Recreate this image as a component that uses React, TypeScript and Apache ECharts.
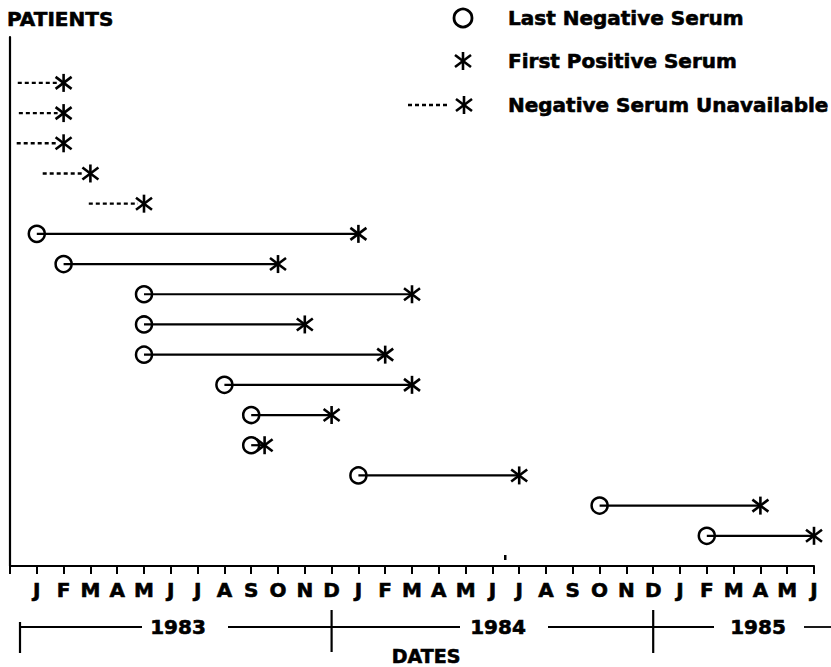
import React, { useEffect, useRef } from "react";
import * as echarts from "echarts";

// Month tick labels, Jan 1983 .. Jun 1985 (index 0 = Jan 1983)
const monthLabels = [
  "J","F","M","A","M","J","J","A","S","O","N","D",
  "J","F","M","A","M","J","J","A","S","O","N","D",
  "J","F","M","A","M","J",
];
const yearLabels = ["1983", "1984", "1985"];

// Patients, top to bottom
const patients = [1,2,3,4,5,6,7,8,9,10,11,12,13,14,15,16];
// Last negative serum (month index), null = unavailable
const lastNegative: (number | null)[] = [null,null,null,null,null,0,1,4,4,4,7,8,8,12,21,25];
// First positive serum (month index)
const firstPositive = [1,1,1,2,4,12,9,14,10,13,14,11,8.5,18,27,29];
// Start of dashed line when negative serum unavailable
const unavailableFrom: (number | null)[] = [-0.71,-0.67,-0.75,0.22,1.94,null,null,null,null,null,null,null,null,null,null,null];

const FONT = '"DejaVu Sans", sans-serif';

function asterisk(cx: number, cy: number, s = 1) {
  const st = { stroke: "#000", lineWidth: 2.6 };
  return [
    { type: "line", shape: { x1: cx, y1: cy - 9 * s, x2: cx, y2: cy + 9 * s }, style: st },
    { type: "line", shape: { x1: cx - 8 * s, y1: cy - 6 * s, x2: cx + 8 * s, y2: cy + 6 * s }, style: st },
    { type: "line", shape: { x1: cx - 8 * s, y1: cy + 6 * s, x2: cx + 8 * s, y2: cy - 6 * s }, style: st },
  ];
}

export default function App() {
  const ref = useRef<HTMLDivElement>(null);
  useEffect(() => {
    document.body.style.margin = "0";
    if (!ref.current) return;
    const chart = echarts.init(ref.current, null, { renderer: "svg" });

    const data = patients.map((p, i) => {
      const neg = lastNegative[i];
      const start = neg !== null ? neg : (unavailableFrom[i] as number);
      return [p, start, firstPositive[i], neg !== null ? 0 : 1];
    });

    const option: any = {
      animation: false,
      backgroundColor: "#fff",
      grid: { left: 10, right: 17, top: 37, bottom: 101, containLabel: false },
      xAxis: {
        type: "value",
        min: -1,
        max: 29,
        interval: 1,
        axisLine: { show: true, onZero: false, lineStyle: { color: "#000", width: 2.2 } },
        axisTick: { show: true, length: 8, lineStyle: { color: "#000", width: 2 } },
        splitLine: { show: false },
        axisLabel: {
          show: true,
          showMinLabel: true,
          showMaxLabel: true,
          margin: 14,
          color: "#000",
          fontFamily: FONT,
          fontWeight: "bold",
          fontSize: 20,
          textBorderColor: "#000",
          textBorderWidth: 0.6,
          formatter: (v: number) => (v >= 0 && Number.isInteger(v) ? monthLabels[v] : ""),
        },
      },
      yAxis: {
        type: "value",
        inverse: true,
        min: -0.52,
        max: 17,
        axisLine: { show: true, onZero: false, lineStyle: { color: "#000", width: 2.2 } },
        axisTick: { show: false },
        axisLabel: { show: false },
        splitLine: { show: false },
      },
      series: [
        {
          type: "custom",
          coordinateSystem: "cartesian2d",
          encode: { x: [1, 2], y: 0 },
          data,
          renderItem: (params: any, api: any) => {
            const row = api.value(0);
            const start = api.value(1);
            const end = api.value(2);
            const kind = api.value(3);
            const p0 = api.coord([start, row]);
            const p1 = api.coord([end, row]);
            const children: any[] = [];
            if (kind === 0) {
              children.push({
                type: "line",
                shape: { x1: p0[0], y1: p0[1], x2: p1[0], y2: p1[1] },
                style: { stroke: "#000", lineWidth: 2.2 },
              });
              children.push({
                type: "circle",
                shape: { cx: p0[0], cy: p0[1], r: 8 },
                style: { stroke: "#000", lineWidth: 2.5, fill: "none" },
              });
            } else {
              children.push({
                type: "line",
                shape: { x1: p0[0], y1: p0[1], x2: p1[0] - 6, y2: p1[1] },
                style: { stroke: "#000", lineWidth: 2.4, lineDash: [4, 3] },
              });
            }
            children.push(...asterisk(p1[0], p1[1]));
            return { type: "group", children };
          },
        },
      ],
    };
    chart.setOption(option);

    const px = (m: number) => chart.convertToPixel({ gridIndex: 0 }, [m, 0])[0];
    const d1 = px(11);
    const d2 = px(23);
    const yb = 627;
    const lineSt = { stroke: "#000", lineWidth: 1.8 };
    const txt = (x: number, y: number, text: string, align = "center", size = 20) => ({
      type: "text",
      x,
      y,
      style: {
        text,
        fill: "#000",
        font: `bold ${size}px ${FONT}`,
        align,
        verticalAlign: "middle",
        stroke: "#000",
        lineWidth: 0.6,
      },
    });

    const graphic: any[] = [
      txt(7, 19, "PATIENTS", "left"),
      // legend
      { type: "circle", shape: { cx: 463, cy: 18, r: 9 }, style: { stroke: "#000", lineWidth: 2.8, fill: "none" } },
      txt(508, 18, "Last Negative Serum", "left"),
      ...asterisk(463, 61),
      txt(508, 61, "First Positive Serum", "left"),
      { type: "line", shape: { x1: 408, y1: 105, x2: 449, y2: 105 }, style: { stroke: "#000", lineWidth: 2.4, lineDash: [4, 3] } },
      ...asterisk(464, 105),
      txt(508, 105, "Negative Serum Unavailable", "left"),
      // year bracket
      { type: "line", shape: { x1: 20, y1: 622, x2: 20, y2: 653 }, style: { stroke: "#000", lineWidth: 2.2 } },
      { type: "line", shape: { x1: 20, y1: yb, x2: 142, y2: yb }, style: lineSt },
      { type: "line", shape: { x1: 228, y1: yb, x2: 460, y2: yb }, style: lineSt },
      { type: "line", shape: { x1: 548, y1: yb, x2: 714, y2: yb }, style: lineSt },
      { type: "line", shape: { x1: 804, y1: yb, x2: 831, y2: yb }, style: lineSt },
      { type: "line", shape: { x1: d1, y1: 610, x2: d1, y2: 652 }, style: { stroke: "#000", lineWidth: 2.2 } },
      { type: "line", shape: { x1: d2, y1: 610, x2: d2, y2: 653 }, style: { stroke: "#000", lineWidth: 2.2 } },
      txt(178, 627, yearLabels[0]),
      txt(498, 627, yearLabels[1]),
      txt(758, 627, yearLabels[2]),
      txt(426, 656, "DATES", "center", 19),
      // small scan mark
      { type: "rect", shape: { x: 504, y: 555, width: 2.5, height: 5 }, style: { fill: "#000" } },
    ];
    chart.setOption({ graphic });

    return () => chart.dispose();
  }, []);
  return <div ref={ref} style={{ width: 831, height: 667 }} />;
}
